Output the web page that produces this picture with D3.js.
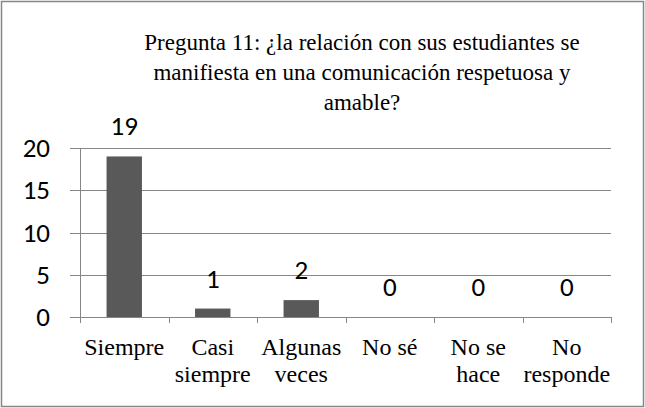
<!DOCTYPE html>
<html>
<head>
<meta charset="utf-8">
<script src="https://cdn.jsdelivr.net/npm/d3@7"></script>
<style>
  body { margin: 0; background: #fff; }
  svg { display: block; }
</style>
</head>
<body>
<svg id="chart" width="645" height="408"></svg>
<script>
// Dades
const categories = ["Siempre", "Casi siempre", "Algunas veces", "No sé", "No se hace", "No responde"];
const catLines = [["Siempre"], ["Casi", "siempre"], ["Algunas", "veces"], ["No sé"], ["No se", "hace"], ["No", "responde"]];
const values = [19, 1, 2, 0, 0, 0];
const yTicks = [0, 5, 10, 15, 20];
const titleLines = [
    "Pregunta 11: ¿la relación con sus estudiantes se",
    "manifiesta en una comunicación respetuosa y",
    "amable?"
];

const SERIF = '"Liberation Serif", monospace';
const NUM = '"Carlito", monospace';

const svg = d3.select("#chart");

// Marc exterior
svg.append("rect")
    .attr("x", 1.5).attr("y", 1.5)
    .attr("width", 642).attr("height", 405)
    .attr("fill", "#fff")
    .attr("stroke", "#868686")
    .attr("stroke-width", 1.5);

const plotLeft = 80, plotRight = 611, plotTop = 148, plotBottom = 317;

// Escala X
const x = d3.scaleBand()
    .domain(categories)
    .range([plotLeft, plotRight])
    .paddingInner(0.6)
    .paddingOuter(0.3);

const xEdges = d3.scaleLinear().domain([0, categories.length]).range([plotLeft, plotRight]);

// Escala Y
const y = d3.scaleLinear()
    .domain([0, 20])
    .range([plotBottom, plotTop]);

// Graella
svg.append("g")
    .selectAll("line")
    .data(yTicks)
    .enter()
    .append("line")
    .attr("x1", plotLeft - 10)
    .attr("x2", plotRight)
    .attr("y1", d => Math.round(y(d)) + 0.5)
    .attr("y2", d => Math.round(y(d)) + 0.5)
    .attr("stroke", "#868686")
    .attr("stroke-width", 1);

// Eix Y
svg.append("line")
    .attr("x1", plotLeft + 0.5).attr("x2", plotLeft + 0.5)
    .attr("y1", plotTop).attr("y2", plotBottom + 6)
    .attr("stroke", "#868686");

// Marques de categoria
svg.append("g")
    .selectAll("line")
    .data(d3.range(1, categories.length + 1))
    .enter()
    .append("line")
    .attr("x1", d => Math.round(xEdges(d)) + 0.5)
    .attr("x2", d => Math.round(xEdges(d)) + 0.5)
    .attr("y1", plotBottom)
    .attr("y2", plotBottom + 6)
    .attr("stroke", "#868686");

// Etiquetes eix Y
svg.append("g")
    .selectAll("text")
    .data(yTicks)
    .enter()
    .append("text")
    .attr("x", 50)
    .attr("y", d => y(d) + 9)
    .attr("text-anchor", "end")
    .style("font-family", NUM)
    .style("font-size", "27px")
    .attr("fill", "#000")
    .text(d => d);

// Barres
svg.selectAll("rect.bar")
    .data(values)
    .enter()
    .append("rect")
    .attr("class", "bar")
    .attr("x", (d, i) => x(categories[i]))
    .attr("y", d => y(d))
    .attr("width", x.bandwidth())
    .attr("height", d => plotBottom - y(d))
    .attr("fill", "#595959");

// Etiquetes de valor
svg.selectAll(".bar-label")
    .data(values)
    .enter()
    .append("text")
    .attr("class", "bar-label")
    .attr("x", (d, i) => x(categories[i]) + x.bandwidth() / 2)
    .attr("y", d => y(d) - 21)
    .attr("text-anchor", "middle")
    .style("font-family", NUM)
    .style("font-size", "27px")
    .attr("fill", "#000")
    .text(d => d);

// Etiquetes eix X
const xl = svg.append("g");
catLines.forEach((lines, i) => {
    const cx = x(categories[i]) + x.bandwidth() / 2;
    lines.forEach((t, j) => {
        xl.append("text")
            .attr("x", cx)
            .attr("y", 355 + j * 27)
            .attr("text-anchor", "middle")
            .style("font-family", SERIF)
            .style("font-size", "24px")
            .attr("fill", "#000")
            .text(t);
    });
});

// Títol
svg.append("g")
    .selectAll("text")
    .data(titleLines)
    .enter()
    .append("text")
    .attr("x", 362)
    .attr("y", (d, i) => 50 + i * 30)
    .attr("text-anchor", "middle")
    .style("font-family", SERIF)
    .style("font-size", "23px")
    .attr("fill", "#000")
    .text(d => d);
</script>
</body>
</html>
